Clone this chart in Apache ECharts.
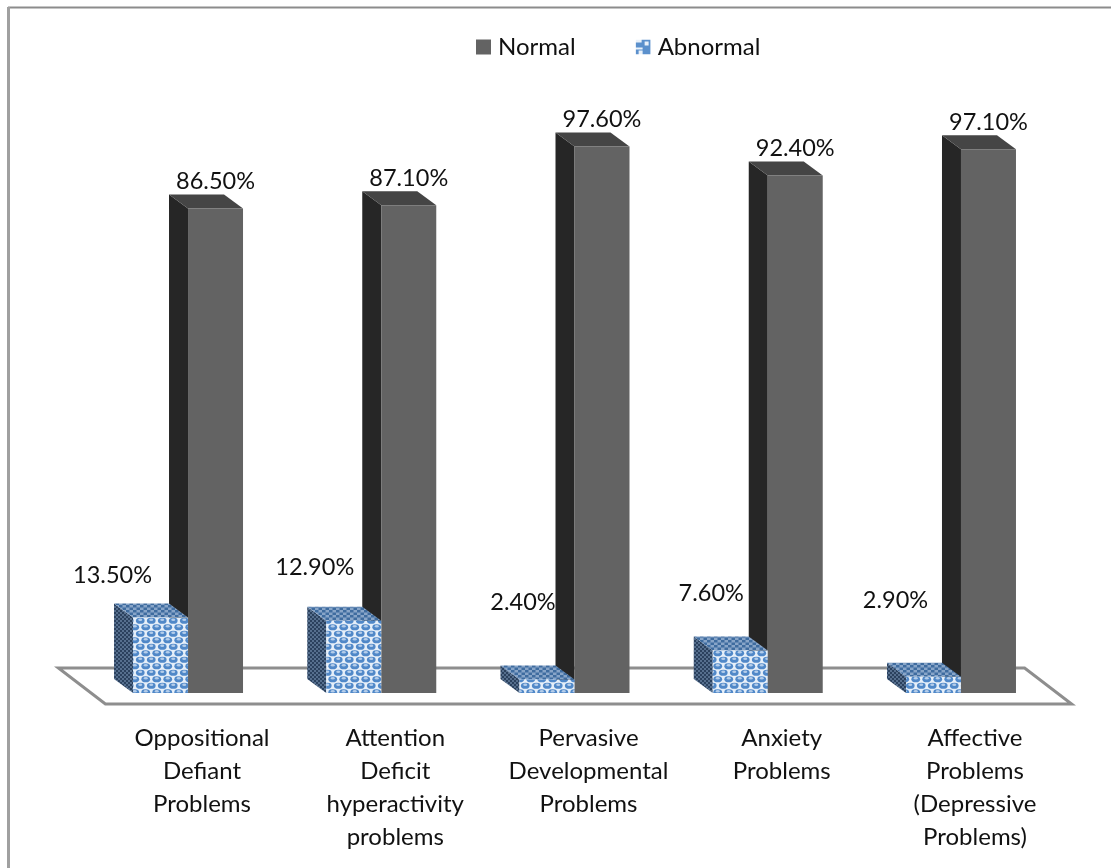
<!DOCTYPE html>
<html>
<head>
<meta charset="utf-8">
<style>html,body{margin:0;padding:0;background:#fff}#chart{width:1111px;height:868px}</style>
<script src="https://cdn.jsdelivr.net/npm/echarts@6/dist/echarts.min.js"></script>
</head>
<body>
<div id="chart"></div>
<script>
// Behaviour problem screening: share of children rated normal vs abnormal.
const categories = [
  'Oppositional\nDefiant\nProblems',
  'Attention\nDeficit\nhyperactivity\nproblems',
  'Pervasive\nDevelopmental\nProblems',
  'Anxiety\nProblems',
  'Affective\nProblems\n(Depressive\nProblems)'
];
const normal = [86.5, 87.1, 97.6, 92.4, 97.1];
const abnormal = [13.5, 12.9, 2.4, 7.6, 2.9];

const FONT = 'Lato, "Open Sans", sans-serif';
const TEXT = '#111';

// Extrusion of the pseudo-3D boxes
const DX = -19, DY = -14;
const BAR_W = 55;
const SHIFT = 14;

// Hand-placed offsets of the low series' labels, from the bar's front top centre
const lowLabelOffset = [[-48, -42], [-39, -53], [-24, -77], [-29, -57], [-38, -76]];

// Staggered rows of soft blue beads on a pale ground
function beads(width, height) {
  const c = document.createElement('canvas');
  c.width = width; c.height = height;
  const g = c.getContext('2d');
  g.fillStyle = '#e6eff9'; g.fillRect(0, 0, width, height);
  const rx = width * 0.4, ry = height * 0.24;
  [[width * 0.25, height * 0.25], [width * 0.75, height * 0.75], [width * -0.25, height * 0.75], [width * 1.25, height * 0.25]].forEach(([x, y]) => {
    g.fillStyle = '#5088c8';
    g.beginPath(); g.ellipse(x, y, rx, ry, 0, 0, Math.PI * 2); g.fill();
    g.fillStyle = '#b4cdea';
    g.beginPath(); g.ellipse(x, y - ry * 0.35, rx * 0.45, ry * 0.4, 0, 0, Math.PI * 2); g.fill();
  });
  return { image: c, repeat: 'repeat' };
}
// Two-tone weave used on the shaded faces
function weave(a, b, width, height) {
  const c = document.createElement('canvas');
  c.width = width; c.height = height;
  const g = c.getContext('2d');
  g.fillStyle = a; g.fillRect(0, 0, width, height);
  g.fillStyle = b;
  g.fillRect(0, 0, width / 2, height / 2);
  g.fillRect(width / 2, height / 2, width / 2, height / 2);
  return { image: c, repeat: 'repeat' };
}
// Key swatch: blue block with pale notches
function swatch() {
  const c = document.createElement('canvas');
  c.width = 15; c.height = 15;
  const g = c.getContext('2d');
  g.fillStyle = '#5b90cc'; g.fillRect(0, 0, 15, 15);
  g.fillStyle = '#e9f1fa';
  g.fillRect(0, 0, 6, 3); g.fillRect(9, 2, 4, 4); g.fillRect(0, 8, 7, 2); g.fillRect(3, 11, 4, 4);
  return { image: c, repeat: 'no-repeat' };
}
const frontPattern = beads(11, 13);
const topPattern = weave('#88a5c8', '#3f6c9f', 7, 5);
const sidePattern = weave('#2b415e', '#566f8e', 4, 4);
const keyPattern = swatch();

function box(api, side, front, top, shift, width) {
  const x = api.value(0), v = api.value(1);
  const [cx, y1] = api.coord([x, v]);
  const [, y0] = api.coord([x, 0]);
  const xl = cx + shift, xr = xl + width;
  const poly = (points, fill) => ({ type: 'polygon', shape: { points }, style: { fill } });
  return [
    poly([[xl, y0], [xl, y1], [xl + DX, y1 + DY], [xl + DX, y0 + DY]], side),
    poly([[xl, y1], [xr, y1], [xr + DX, y1 + DY], [xl + DX, y1 + DY]], top),
    poly([[xl, y1], [xr, y1], [xr, y0], [xl, y0]], front)
  ];
}
function valueText(x, y, v) {
  return {
    type: 'text', x, y,
    style: { text: v.toFixed(2) + '%', font: '23.5px ' + FONT, fill: TEXT, align: 'center', verticalAlign: 'middle' }
  };
}

const option = {
  animation: false,
  backgroundColor: '#fff',
  graphic: [
    { type: 'line', silent: true, shape: { x1: 8, y1: 7.5, x2: 1111, y2: 7.5 }, style: { stroke: '#8c8c8c', lineWidth: 2 } },
    { type: 'line', silent: true, shape: { x1: 8.5, y1: 7, x2: 8.5, y2: 868 }, style: { stroke: '#a0a0a0', lineWidth: 3 } }
  ],
  legend: {
    top: 30, left: 471,
    itemGap: 60, itemWidth: 15, itemHeight: 15,
    icon: 'rect',
    textStyle: { fontFamily: FONT, fontSize: 24, color: TEXT, padding: [0, 0, 0, 2] },
    data: ['Normal', { name: 'Abnormal', itemStyle: { color: keyPattern } }]
  },
  grid: { left: 105.4, right: 39.4, top: 133, height: 560, containLabel: false },
  xAxis: {
    type: 'category',
    data: categories,
    axisLine: { show: false },
    axisTick: { show: false },
    axisLabel: {
      interval: 0, margin: 29,
      fontFamily: FONT, fontSize: 24, color: TEXT, lineHeight: 33, align: 'center', verticalAlign: 'top'
    }
  },
  yAxis: { type: 'value', min: 0, max: 100, show: false, splitLine: { show: false } },
  series: [
    {
      // Floor plate under the boxes, sized from the plot rectangle
      type: 'custom',
      silent: true,
      data: [[0, 0]],
      z: 1,
      renderItem(params) {
        const r = params.coordSys;
        const y0 = r.y + r.height;
        const back = y0 - 25, front = y0 + 11;
        const skew = -47;
        return {
          type: 'polygon',
          shape: { points: [[r.x, front], [r.x + r.width, front], [r.x + r.width + skew, back], [r.x + skew, back]] },
          style: { fill: '#fff', stroke: '#8e8e8e', lineWidth: 3 }
        };
      }
    },
    {
      name: 'Normal',
      type: 'custom',
      z: 2,
      itemStyle: { color: '#636363' },
      data: normal.map((v, i) => [i, v]),
      renderItem(params, api) {
        const [cx, y1] = api.coord([api.value(0), api.value(1)]);
        return {
          type: 'group',
          children: box(api, '#262626', '#636363', '#454545', -SHIFT, BAR_W)
            .concat(valueText(cx - SHIFT + BAR_W / 2, y1 - 27, api.value(1)))
        };
      }
    },
    {
      name: 'Abnormal',
      type: 'custom',
      z: 3,
      itemStyle: { color: '#5b90cc' },
      data: abnormal.map((v, i) => [i, v]),
      renderItem(params, api) {
        const i = api.value(0);
        const [cx, y1] = api.coord([i, api.value(1)]);
        const left = cx - SHIFT - BAR_W;
        const [ox, oy] = lowLabelOffset[i];
        return {
          type: 'group',
          children: box(api, sidePattern, frontPattern, topPattern, -SHIFT - BAR_W, BAR_W)
            .concat(valueText(left + BAR_W / 2 + ox, y1 + oy, api.value(1)))
        };
      }
    }
  ]
};

const chart = echarts.init(document.getElementById('chart'), null, { renderer: 'canvas' });
chart.setOption(option);
</script>
</body>
</html>
